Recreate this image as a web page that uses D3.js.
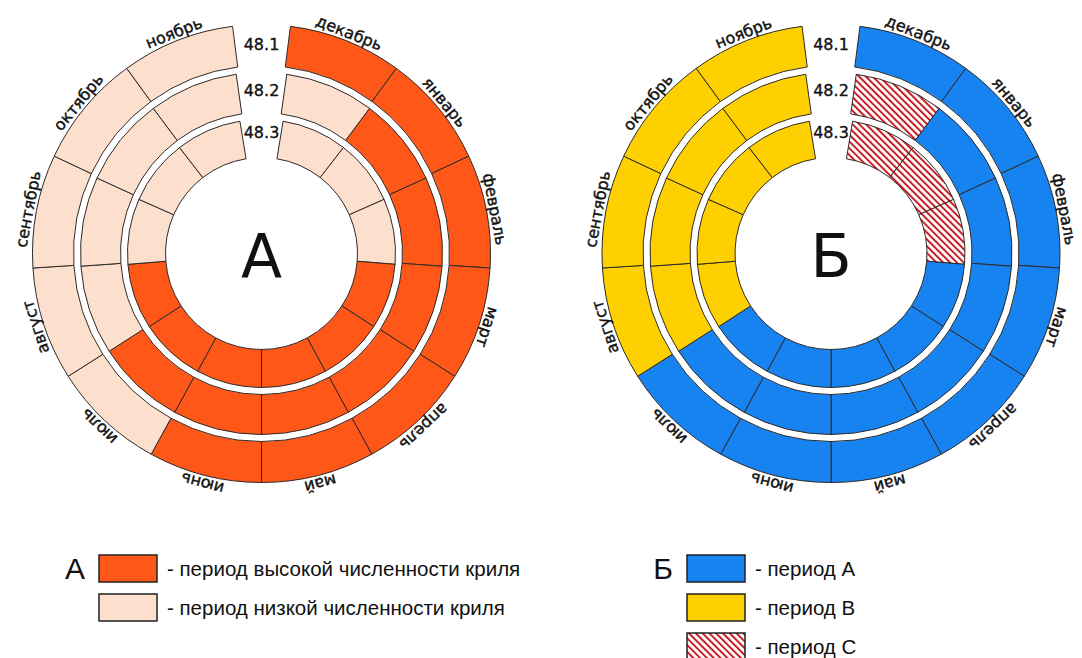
<!DOCTYPE html>
<html><head><meta charset="utf-8">
<script src="https://cdn.jsdelivr.net/npm/d3@7"></script>
<style>html,body{margin:0;padding:0;background:#fff}</style>
</head><body>
<svg id="chart" width="1082" height="658"></svg>
<script>
// ---------- data ----------
const months = ["декабрь","январь","февраль","март","апрель","май","июнь","июль","август","сентябрь","октябрь","ноябрь"];
const ringNames = ["48.1","48.2","48.3"];
// Chart А: H = high krill abundance, L = low
const a_48_1 = ["H","H","H","H","H","H","H","L","L","L","L","L"];
const a_48_2 = ["L","H","H","H","H","H","H","H","L","L","L","L"];
const a_48_3 = ["L","L","L","H","H","H","H","H","H","L","L","L"];
// Chart Б: periods A, B, C
const b_48_1 = ["A","A","A","A","A","A","A","A","B","B","B","B"];
const b_48_2 = ["C","A","A","A","A","A","A","A","B","B","B","B"];
const b_48_3 = ["C","C","C","A","A","A","A","A","B","B","B","B"];
const legendAKeys = ["H","L"];
const legendATexts = ["- период высокой численности криля","- период низкой численности криля"];
const legendBKeys = ["A","B","C"];
const legendBTexts = ["- период А","- период В","- период С"];

// ---------- styles ----------
const fills = {H:"#ff5717", L:"#fddfce", A:"#1683f0", B:"#ffd000", C:"url(#hatch)"};
const strokeCol = "#2e2a28";

const svg = d3.select("#chart");
const defs = svg.append("defs");
const pat = defs.append("pattern").attr("id","hatch").attr("patternUnits","userSpaceOnUse")
  .attr("width",4.8).attr("height",10).attr("patternTransform","rotate(-45)");
pat.append("rect").attr("width",4.8).attr("height",10).attr("fill","#ffffff");
pat.append("rect").attr("width",2).attr("height",10).attr("fill","#c81f27");

// ---------- layout ----------
const ringR = [[188,229],[141,181],[96,134]];
const halfGap = [7.26, 8.03, 9.26];      // degrees
const ringLabelR = [209, 163, 121];
const charts = [
  {cx:261.5, cy:253.5, letter:"А", rings:[a_48_1,a_48_2,a_48_3]},
  {cx:831,   cy:253.5, letter:"Б", rings:[b_48_1,b_48_2,b_48_3]}
];
const rad = d => d*Math.PI/180;
const arc = d3.arc();

charts.forEach(ch => {
  const g = svg.append("g").attr("transform",`translate(${ch.cx},${ch.cy})`);
  ch.rings.forEach((vals, i) => {
    const h = halfGap[i];
    const ang = d3.scaleLinear().domain([0, months.length]).range([h, 360-h]);
    g.append("g").selectAll("path").data(vals).join("path")
      .attr("d",(v,k)=>arc({innerRadius:ringR[i][0], outerRadius:ringR[i][1],
                              startAngle:rad(ang(k)), endAngle:rad(ang(k+1))}))
      .attr("fill",v=>fills[v]).attr("stroke",strokeCol).attr("stroke-width",1);
    g.append("text").attr("x",0).attr("y",-ringLabelR[i])
      .attr("text-anchor","middle").attr("dominant-baseline","central")
      .attr("font-family","DejaVu Sans").attr("font-size",16).attr("fill","#111")
      .attr("stroke","#111").attr("stroke-width",0.35)
      .text(ringNames[i]);
  });
  // month labels
  const ang0 = d3.scaleLinear().domain([0, months.length]).range([halfGap[0], 360-halfGap[0]]);
  g.append("g").selectAll("text").data(months).join("text")
    .attr("transform",(m,k)=>`rotate(${ang0(k+0.5)}) translate(0,${-(ringR[0][1]+3)})`)
    .attr("text-anchor","middle")
    .attr("font-family","DejaVu Sans").attr("font-size",16).attr("fill","#111")
    .attr("stroke","#111").attr("stroke-width",0.4)
    .text(m=>m);
  g.append("text").attr("x",0).attr("y",2)
    .attr("text-anchor","middle").attr("dominant-baseline","central")
    .attr("font-family","DejaVu Sans").attr("font-size",60).attr("fill","#111")
    .text(ch.letter);
});

// ---------- legends ----------
function legend(x0, y0, letter, keys, texts){
  const g = svg.append("g");
  g.append("text").attr("x",x0-24).attr("y",y0+13.5).attr("text-anchor","middle")
    .attr("dominant-baseline","central").attr("font-family","Liberation Sans")
    .attr("font-size",30).attr("fill","#111").text(letter);
  keys.forEach((k,i)=>{
    const y = y0 + i*39;
    g.append("rect").attr("x",x0).attr("y",y).attr("width",58).attr("height",27)
      .attr("fill",fills[k]).attr("stroke","#222").attr("stroke-width",1.5);
    g.append("text").attr("x",x0+68).attr("y",y+13.5).attr("dominant-baseline","central")
      .attr("font-family","Liberation Sans").attr("font-size",20.5).attr("fill","#111")
      .text(texts[i]);
  });
}
legend(99, 555, "А", legendAKeys, legendATexts);
legend(687, 555, "Б", legendBKeys, legendBTexts);
</script>
</body></html>
